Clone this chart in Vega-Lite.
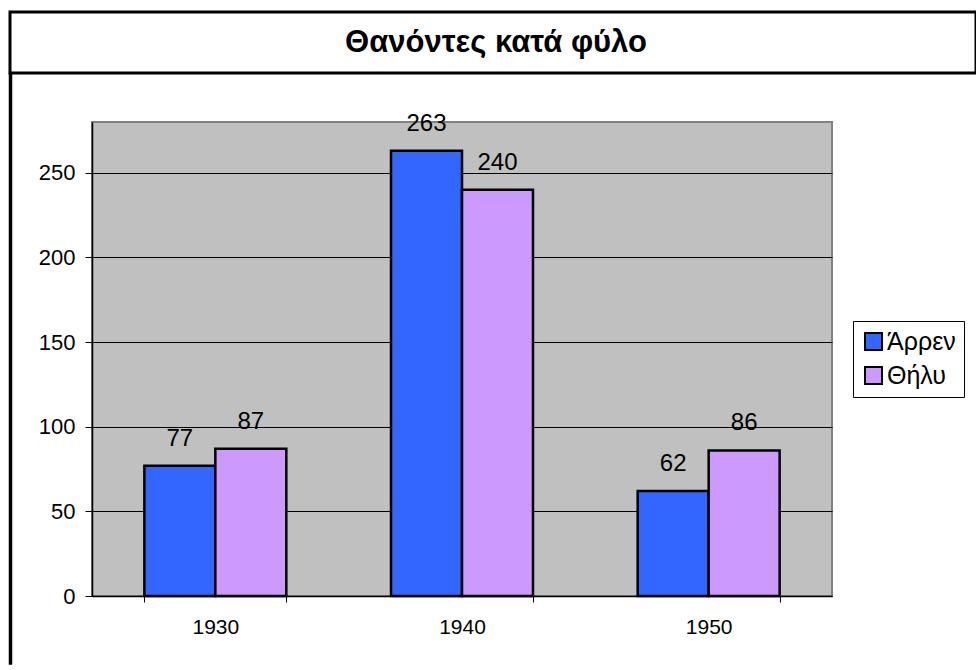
{
  "$schema": "https://vega.github.io/schema/vega-lite/v6.json",
  "padding": {"left": 8, "top": 10, "right": 0, "bottom": 0},
  "background": "white",
  "config": {"font": "Liberation Sans"},
  "spacing": -5,
  "resolve": {"legend": {"color": "independent"}},
  "vconcat": [
    {
      "width": 966,
      "height": 61,
      "view": {"stroke": "black", "strokeWidth": 3, "fill": "white"},
      "data": {"values": [{"title": "Θανόντες κατά φύλο"}]},
      "mark": {"type": "text", "font": "Liberation Sans", "fontWeight": "bold", "fontSize": 31, "dx": 3, "baseline": "middle", "color": "black"},
      "encoding": {"text": {"field": "title"}}
    },
    {
      "spacing": 0,
      "resolve": {"legend": {"color": "independent"}, "scale": {"y": "independent"}},
      "hconcat": [
        {
          "width": 1,
          "height": 474,
          "view": {"stroke": null},
          "data": {"values": [{"t": ""}]},
          "mark": {"type": "rule", "color": "black", "strokeWidth": 3.5},
          "encoding": {
            "y": {"datum": 1.1044, "type": "quantitative", "scale": {"domain": [0, 1], "nice": false, "zero": false}, "axis": null},
            "y2": {"datum": -0.145}
          }
        },
        {
          "width": 740,
          "height": 474,
          "view": {"stroke": "#808080", "strokeWidth": 2, "fill": "#C0C0C0"},
          "data": {"values": [
            {"year": "1930", "sex": "Άρρεν", "count": 77},
            {"year": "1930", "sex": "Θήλυ", "count": 87},
            {"year": "1940", "sex": "Άρρεν", "count": 263},
            {"year": "1940", "sex": "Θήλυ", "count": 240},
            {"year": "1950", "sex": "Άρρεν", "count": 62},
            {"year": "1950", "sex": "Θήλυ", "count": 86}
          ]},
          "encoding": {
            "x": {
              "field": "year", "type": "nominal",
              "scale": {"paddingInner": 0.4245, "paddingOuter": 0.2123},
              "axis": {"title": null, "labelAngle": 0, "tickBand": "extent", "domainColor": "black", "domainWidth": 1.5, "tickColor": "black", "tickSize": 6, "labelFontSize": 21, "labelPadding": 14, "labelColor": "black", "grid": false}
            },
            "xOffset": {"field": "sex", "type": "nominal", "sort": ["Άρρεν", "Θήλυ"]},
            "y": {
              "field": "count", "type": "quantitative",
              "scale": {"domain": [0, 280], "nice": false},
              "axis": {"title": null, "values": [0, 50, 100, 150, 200, 250], "grid": true, "gridColor": "black", "gridWidth": 1, "gridOpacity": 1, "domainColor": "black", "domainWidth": 1.5, "tickColor": "black", "tickSize": 7, "labelFontSize": 22, "labelPadding": 10, "labelColor": "black", "minExtent": 78}
            }
          },
          "layer": [
            {
              "mark": {"type": "bar", "stroke": "black", "strokeWidth": 2.5},
              "encoding": {
                "color": {
                  "field": "sex", "type": "nominal",
                  "scale": {"domain": ["Άρρεν", "Θήλυ"], "range": ["#3366FF", "#CC99FF"]},
                  "legend": {"orient": "none", "legendX": 761, "legendY": 199, "title": null, "strokeColor": "black", "fillColor": "white", "padding": 8, "labelFontSize": 25, "labelColor": "black", "symbolType": "square", "symbolSize": 290, "symbolStrokeColor": "black", "symbolStrokeWidth": 2, "symbolOpacity": 1, "rowPadding": 7, "labelOffset": 1}
                }
              }
            },
            {
              "mark": {"type": "text", "dy": -20, "baseline": "alphabetic", "fontSize": 24, "color": "black"},
              "encoding": {"text": {"field": "count", "type": "quantitative"}}
            }
          ]
        }
      ]
    }
  ]
}
